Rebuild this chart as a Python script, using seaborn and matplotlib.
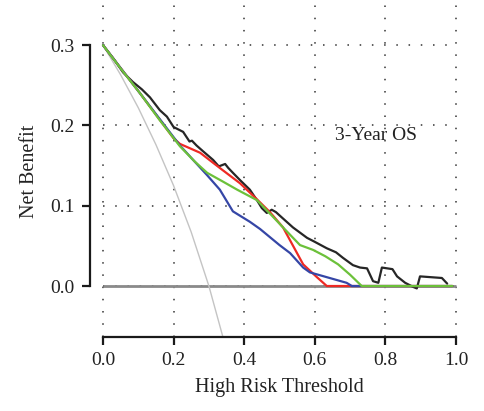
import matplotlib
matplotlib.use("Agg")
import matplotlib.pyplot as plt
import seaborn as sns

# Decision curve: net benefit vs. high-risk threshold
treat_all_t = [0.0, 0.05, 0.10, 0.15, 0.20, 0.25, 0.30, 0.34]
treat_all_nb = [0.30, 0.263, 0.222, 0.176, 0.125, 0.067, 0.0, -0.064]

black_t = [0.0, 0.03, 0.057, 0.085, 0.11, 0.133, 0.161, 0.181, 0.20, 0.227, 0.245,
           0.252, 0.265, 0.283, 0.312, 0.328, 0.346, 0.355, 0.368, 0.388, 0.416,
           0.436, 0.45, 0.464, 0.478, 0.49, 0.50, 0.538, 0.578, 0.60, 0.634, 0.66,
           0.68, 0.708, 0.728, 0.748, 0.765, 0.78, 0.79, 0.82, 0.833, 0.856, 0.878,
           0.889, 0.898, 0.96, 0.975]
black_nb = [0.30, 0.283, 0.266, 0.254, 0.245, 0.235, 0.219, 0.211, 0.198, 0.192, 0.180,
            0.181, 0.175, 0.168, 0.157, 0.149, 0.152, 0.147, 0.141, 0.132, 0.120,
            0.107, 0.097, 0.091, 0.095, 0.092, 0.088, 0.073, 0.060, 0.055, 0.047, 0.042,
            0.035, 0.026, 0.023, 0.022, 0.006, 0.004, 0.023, 0.021, 0.012, 0.004, -0.001,
            -0.003, 0.012, 0.010, 0.003]

red_t = [0.0, 0.105, 0.20, 0.218, 0.275, 0.331, 0.388, 0.436, 0.473, 0.51, 0.567,
         0.606, 0.634, 0.99]
red_nb = [0.30, 0.240, 0.184, 0.177, 0.166, 0.147, 0.128, 0.108, 0.092, 0.073, 0.027,
          0.011, 0.0, 0.0]

blue_t = [0.0, 0.105, 0.218, 0.295, 0.331, 0.368, 0.416, 0.445, 0.50, 0.53, 0.567,
          0.586, 0.634, 0.69, 0.705, 0.99]
blue_nb = [0.30, 0.240, 0.175, 0.138, 0.120, 0.093, 0.080, 0.071, 0.051, 0.041, 0.023,
           0.017, 0.011, 0.004, 0.0, 0.0]

green_t = [0.0, 0.05, 0.105, 0.16, 0.218, 0.26, 0.295, 0.34, 0.38, 0.436, 0.482,
           0.51, 0.558, 0.595, 0.63, 0.666, 0.70, 0.733, 0.99]
green_nb = [0.30, 0.271, 0.240, 0.207, 0.174, 0.155, 0.141, 0.130, 0.120, 0.107, 0.086,
            0.073, 0.051, 0.045, 0.037, 0.027, 0.014, 0.0, 0.0]

x_ticks = [0.0, 0.2, 0.4, 0.6, 0.8, 1.0]
y_ticks = [0.0, 0.1, 0.2, 0.3]

sns.set_style("white")
plt.rcParams["font.family"] = ["Liberation Serif", "DejaVu Serif"]

fig = plt.figure(figsize=(4.84, 4.11), dpi=100)
ax = fig.add_axes([90 / 484, 1 - 337 / 411, (469 - 90) / 484, (337 - 5) / 411])
ax.set_xlim(-0.0368, 1.0368)
ax.set_ylim(-0.0635, 0.350)

# dotted reference grid
grid_kw = dict(color="#333333", lw=1.1, linestyle=(0, (1, 7.0)), zorder=0)
for xv in x_ticks:
    ax.axvline(xv, **grid_kw)
for yv in y_ticks:
    ax.hlines(yv, 0, 1, **grid_kw)

# treat none
ax.hlines(0, 0, 1, color="#8a8a8a", lw=2.0, zorder=1)

sns.lineplot(x=treat_all_t, y=treat_all_nb, color="#c4c4c4", lw=1.0, sort=False,
             estimator=None, ax=ax, zorder=2)
sns.lineplot(x=black_t, y=black_nb, color="#262626", lw=1.6, sort=False,
             estimator=None, ax=ax, zorder=3)
sns.lineplot(x=red_t, y=red_nb, color="#ee2a24", lw=1.6, sort=False,
             estimator=None, ax=ax, zorder=4)
sns.lineplot(x=blue_t, y=blue_nb, color="#3546a6", lw=1.6, sort=False,
             estimator=None, ax=ax, zorder=5)
sns.lineplot(x=green_t, y=green_nb, color="#6cc13a", lw=1.6, sort=False,
             estimator=None, ax=ax, zorder=6)

ax.text(0.773, 0.187, "3-Year OS", fontsize=14, ha="center", va="center", color="#222222")

for side in ("top", "right"):
    ax.spines[side].set_visible(False)
ax.spines["left"].set_bounds(0, 0.3)
ax.spines["bottom"].set_bounds(0, 1)
for side in ("left", "bottom"):
    ax.spines[side].set_linewidth(1.6)
    ax.spines[side].set_color("#1a1a1a")

ax.set_xticks(x_ticks)
ax.set_xticklabels([f"{v:.1f}" for v in x_ticks])
ax.set_yticks(y_ticks)
ax.set_yticklabels([f"{v:.1f}" for v in y_ticks])
ax.tick_params(axis="both", which="major", bottom=True, left=True, direction="out",
               length=6, width=1.6, color="#1a1a1a", labelsize=14,
               labelcolor="#222222")
ax.tick_params(axis="x", pad=5)
ax.tick_params(axis="y", pad=5)

ax.set_xlabel("High Risk Threshold", fontsize=14.5, color="#222222", labelpad=6)
ax.set_ylabel("Net Benefit", fontsize=14.5, color="#222222", labelpad=8)

fig.savefig("out.png", dpi=100)
